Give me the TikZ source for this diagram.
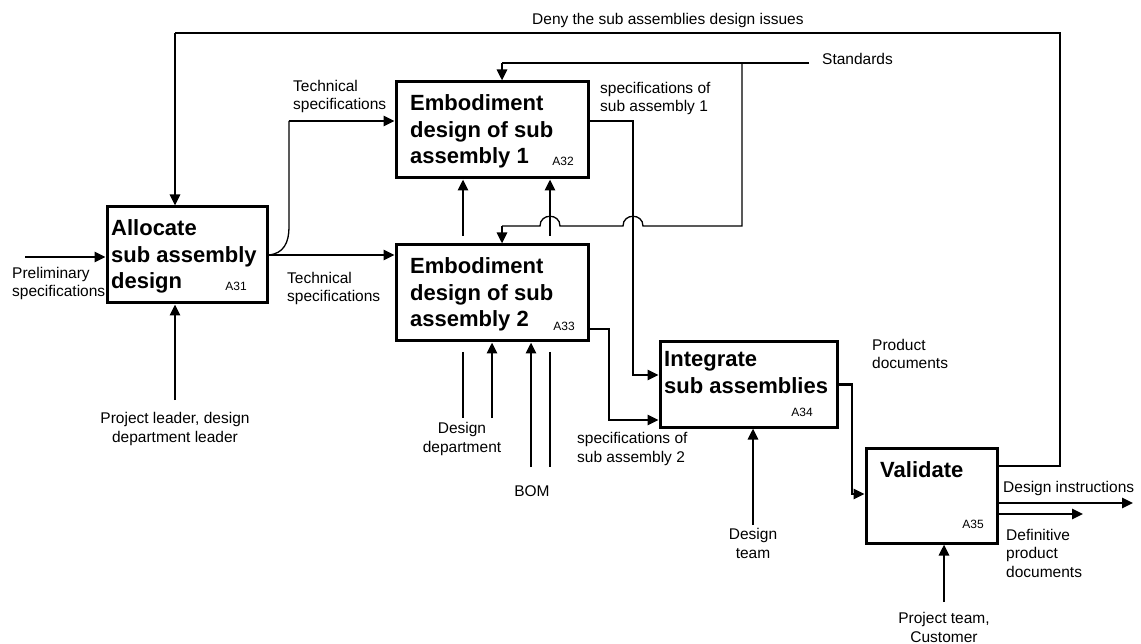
\documentclass[tikz,border=0pt]{standalone}
\usepackage{fontspec}
\setmainfont{Liberation Sans}
\usetikzlibrary{positioning,arrows.meta}
\newcommand{\lblfont}{\fontsize{15.5}{18.5}\selectfont}
\newcommand{\ttlfont}{\fontsize{22}{26.5}\selectfont\bfseries}
\newcommand{\idfont}{\fontsize{12}{14}\selectfont}
\tikzset{
  act/.style={draw, line width=3pt, inner sep=0pt},
  ttl/.style={font=\ttlfont, inner sep=0pt, anchor=base west, align=left},
  idl/.style={font=\idfont, inner sep=0pt, anchor=base east},
  lbl/.style={font=\lblfont, inner sep=0pt, anchor=base west, align=left},
  lblc/.style={font=\lblfont, inner sep=0pt, anchor=base, align=center},
  flow/.style={line width=2.6pt, -{Triangle[length=11pt,width=10pt]}},
  thinl/.style={line width=1.3pt}
}

\begin{document}
\begin{tikzpicture}[x=1pt,y=-1pt]
\useasboundingbox (0,0) rectangle (1141,644);

% activities
\node[act, minimum width=160pt, minimum height=96pt] (a31) at (187,255) {};
\node[act, minimum width=192pt, minimum height=96pt] (a32) at (492,130) {};
\node[act, minimum width=192pt, minimum height=96pt] (a33) at (492,293) {};
\node[act, minimum width=177pt, minimum height=85pt] (a34) at (748.5,384.5) {};
\node[act, minimum width=131pt, minimum height=95pt] (a35) at (931.5,495.5) {};

% titles (anchored on the last line)
\node[ttl] (t31) at (111,289) {Allocate\\sub assembly\\design};
\node[ttl] (t32) at (410,164) {Embodiment\\design of sub\\assembly 1};
\node[ttl] (t33) at (410,327) {Embodiment\\design of sub\\assembly 2};
\node[ttl] (t34) at (664,393) {Integrate\\sub assemblies};
\node[ttl] (t35) at (880,477) {Validate};

\node[idl] (n31) at (247,291) {A31};
\node[idl] (n32) at (574,166) {A32};
\node[idl] (n33) at (575,331) {A33};
\node[idl] (n34) at (813,416) {A34};
\node[idl] (n35) at (984,528) {A35};

% labels
\node[lbl] (ldeny) at (532,25) {Deny the sub assemblies design issues};
\node[lbl] (lstd) at (822,65) {Standards};
\node[lbl] (ltech1) at (293,110) {Technical\\specifications};
\node[lbl] (ltech2) at (287,302) {Technical\\specifications};
\node[lbl] (lprel) at (12,297) {Preliminary\\specifications};
\node[lbl] (lspec1) at (600,112) {specifications of\\sub assembly 1};
\node[lbl] (lspec2) at (577,462) {specifications of\\sub assembly 2};
\node[lbl] (lprod) at (872,369) {Product\\documents};
\node[lbl] (linstr) at (1003,492) {Design instructions};
\node[lbl] (ldef) at (1006,577) {Definitive\\product\\documents};
\node[lblc] (llead) at (175,442) {Project leader, design\\department leader};
\node[lblc] (ldep) at (462,452) {Design\\department};
\node[lblc] (lbom) at (532,496) {BOM};
\node[lblc] (lteam) at (753,558) {Design\\team};
\node[lblc] (lcust) at (944,642) {Project team,\\Customer};

% free ends
\coordinate (prel) at (25,257);
\coordinate (lead) at (175,400);
\coordinate (br) at (289,227);
\coordinate (ts1) at (289,121);
\coordinate (fb1) at (1060,466);
\coordinate (fb2) at (1060,33);
\coordinate (fb3) at (175,33);
\coordinate (std) at (809,63);
\coordinate (s1) at (502,63);
\coordinate (sv) at (742,63);
\coordinate (sb) at (742,226);
\coordinate (s2) at (502,226);
\coordinate (dd1) at (463,236);
\coordinate (bom1) at (550,236);
\coordinate (dep) at (492,418);
\coordinate (bom) at (531,467);
\coordinate (team) at (753,525);
\coordinate (cust) at (944,602);
\coordinate (instr) at (1133,503);
\coordinate (defin) at (1083,514);

% inputs
\draw[flow] (prel) -- (prel -| a31.west);
\draw[flow] (a31.east) -- (a31.east -| a33.west);
\draw[thinl] (268,255) .. controls (284,254) and (289,242) .. (br) -- (ts1);
\draw[flow] (ts1) -- (ts1 -| a32.west);

% feedback
\draw[thinl] (a35.east |- fb1) -- (fb1) -- (fb2) -- (fb3);
\draw[flow] (fb3) -- (fb3 |- a31.north);

% controls
\draw[flow] (lead) -- (lead |- a31.south);
\draw[thinl] (std) -- (s1);
\draw[flow] (s1) -- (s1 |- a32.north);
\draw[thinl] (sv) -- (sb) -- (643,226) .. controls (643,213) and (623,213) .. (623,226)
  -- (560,226) .. controls (560,213) and (540,213) .. (540,226) -- (s2);
\draw[flow] (s2) -- (s2 |- a33.north);

% mechanisms
\draw[flow] (dd1) -- (dd1 |- a32.south);
\draw[flow] (bom1) -- (bom1 |- a32.south);
\draw[thinl] (463,352) -- (463,418);
\draw[thinl] (550,352) -- (550,467);
\draw[flow] (dep) -- (dep |- a33.south);
\draw[flow] (bom) -- (bom |- a33.south);
\draw[flow] (team) -- (team |- a34.south);
\draw[flow] (cust) -- (cust |- a35.south);

% outputs
\draw[flow] (a32.east |- ts1) -- (633,121) -- (633,375) -- (a34.west |- 0,375);
\draw[flow] (a33.east |- 0,329) -- (609,329) -- (609,420) -- (a34.west |- 0,420);
\draw[flow] (a34.east) -- (852,384.5) |- (a35.west |- 0,494);
\draw[flow] (a35.east |- instr) -- (instr);
\draw[flow] (a35.east |- defin) -- (defin);
\end{tikzpicture}
\end{document}
